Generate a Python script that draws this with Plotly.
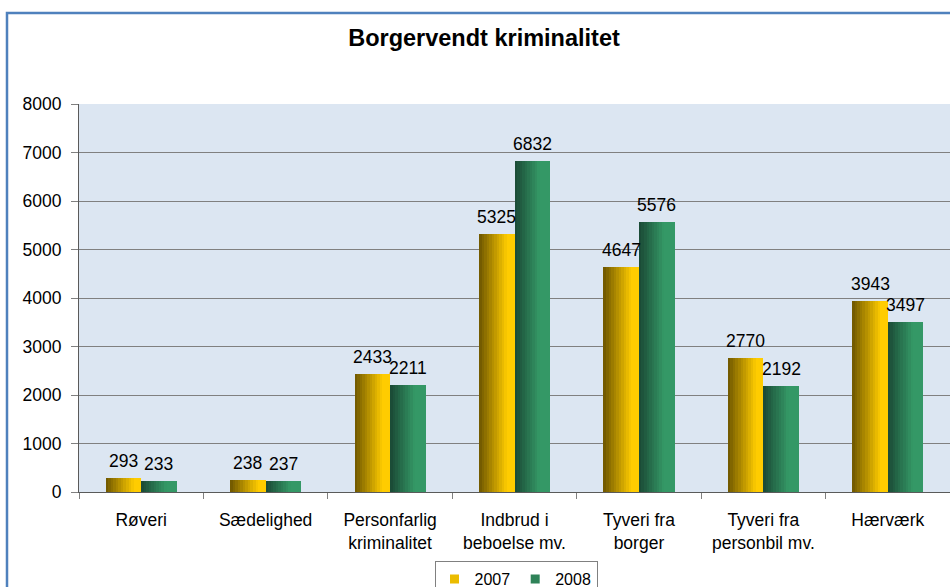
import plotly.graph_objects as go

categories = ["Røveri", "Sædelighed", "Personfarlig<br>kriminalitet", "Indbrud i<br>beboelse mv.",
              "Tyveri fra<br>borger", "Tyveri fra<br>personbil mv.", "Hærværk"]
series_names = ["2007", "2008"]
values_2007 = [293, 238, 2433, 5325, 4647, 2770, 3943]
values_2008 = [233, 237, 2211, 6832, 5576, 2192, 3497]
y_ticks = [0, 1000, 2000, 3000, 4000, 5000, 6000, 7000, 8000]

W, H = 950, 587
ML, MR, MT, MB = 79, 0, 104, 95
BAR_W = 0.285
N_SLICES = 14
FS = 17.5

def lerp(c1, c2, t):
    return "rgb(%d,%d,%d)" % tuple(round(a + (b - a) * t) for a, b in zip(c1, c2))

styles = [
    dict(dark=(110, 86, 0), bright=(255, 204, 0), reach=0.8, offset=-BAR_W, legend="rgb(235,188,0)"),
    dict(dark=(26, 72, 52), bright=(52, 152, 102), reach=0.7, offset=0.0, legend="rgb(46,130,88)"),
]

FONT = "Liberation Sans, Arial"
pw = W - ML - MR
ph = H - MT - MB
cat_px = pw / len(categories)

fig = go.Figure()
for name, vals, st in zip(series_names, [values_2007, values_2008], styles):
    sw = BAR_W / N_SLICES
    for i in range(N_SLICES):
        t = min(1.0, (i + 0.5) / N_SLICES / st["reach"])
        fig.add_trace(go.Bar(
            x=categories, y=vals, name=name,
            offset=st["offset"] + i * sw, width=sw * 1.05,
            marker=dict(color=lerp(st["dark"], st["bright"], t), line=dict(width=0)),
            showlegend=False, legendgroup=name, hoverinfo="skip",
        ))
    # legend entry
    fig.add_trace(go.Scatter(
        x=[None], y=[None], name=name, mode="markers",
        marker=dict(symbol="square", size=9, color=st["legend"]),
        showlegend=True, legendgroup=name,
    ))
    # value labels
    shift = (st["offset"] + BAR_W / 2) * cat_px
    for c, v in zip(categories, vals):
        fig.add_annotation(x=c, y=v, text=str(v), showarrow=False,
                           xanchor="center", yanchor="bottom", xshift=shift, yshift=5,
                           font=dict(size=FS, color="#000000", family=FONT))

fx = lambda px: (px - ML) / pw
fy = lambda py: (H - MB - py) / ph

fig.add_shape(type="rect", xref="paper", yref="paper",
              x0=fx(7), x1=fx(980), y0=fy(620), y1=fy(13),
              line=dict(color="#4f81bd", width=2.5), fillcolor="rgba(0,0,0,0)", layer="below")

fig.update_layout(
    width=W, height=H,
    margin=dict(l=ML, r=MR, t=MT, b=MB, autoexpand=False),
    barmode="overlay",
    paper_bgcolor="white",
    plot_bgcolor="#dce6f2",
    font=dict(family=FONT, size=FS, color="#000000"),
    title=dict(text="<b>Borgervendt kriminalitet</b>", x=484 / W, xanchor="center",
               xref="container", y=1 - 38 / H, yanchor="middle", yref="container",
               font=dict(size=23.5, color="#000000")),
    legend=dict(orientation="h", x=fx(516), xanchor="center", y=fy(561), yanchor="top",
                bordercolor="#808080", borderwidth=1, font=dict(size=16),
                itemwidth=30, tracegroupgap=0, bgcolor="white"),
    xaxis=dict(type="category", categoryorder="array", categoryarray=categories,
               ticks="outside", tickson="boundaries", ticklen=6, tickcolor="#808080",
               showline=True, linecolor="#5a5a5a", linewidth=1, showgrid=False,
               tickfont=dict(size=FS), range=[-0.5, 6.5], automargin=False,
               ticklabelstandoff=12),
    yaxis=dict(range=[0, 8000], tickvals=y_ticks, ticks="outside", ticklen=7,
               tickcolor="#808080", showline=True, linecolor="#5a5a5a", linewidth=1,
               showgrid=True, gridcolor="#808080", gridwidth=1, zeroline=False,
               tickfont=dict(size=FS), ticklabelstandoff=6, automargin=False),
    bargap=0,
)

fig.write_html("out.html", config={"displayModeBar": False},
               post_script="document.body.style.margin='0';document.body.style.overflow='hidden';")
